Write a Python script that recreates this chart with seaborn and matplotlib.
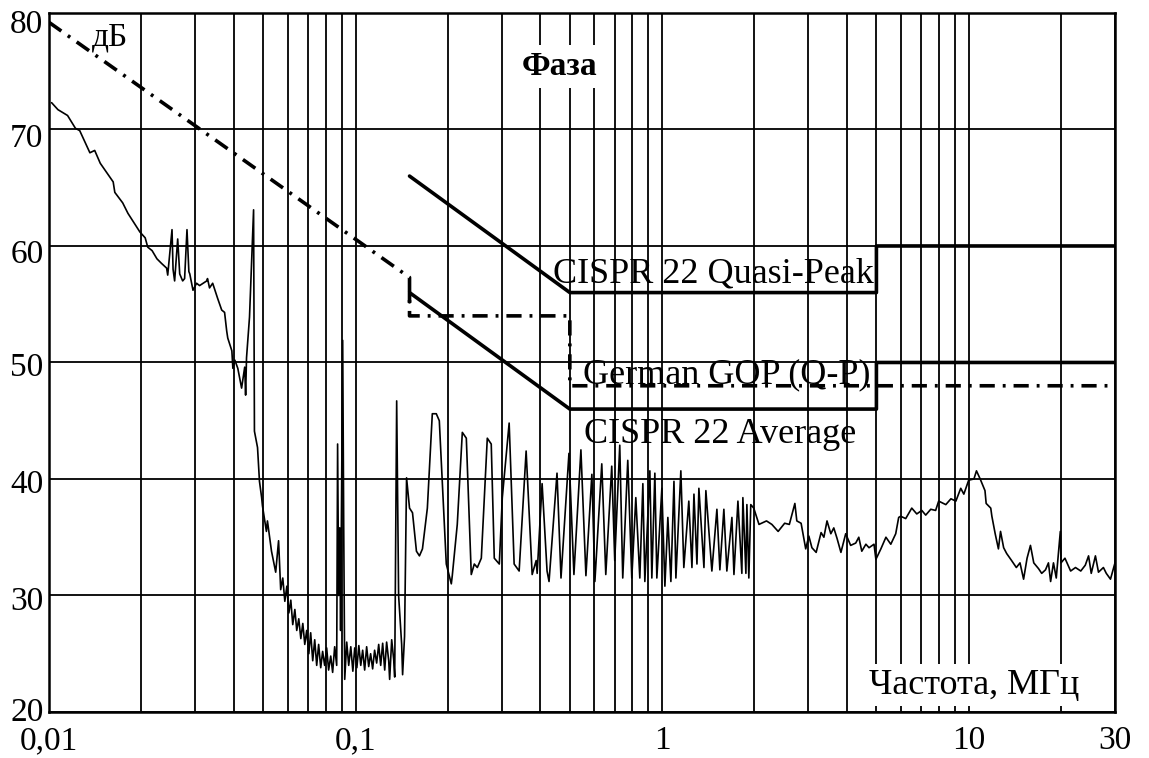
import numpy as np
import matplotlib
matplotlib.use("Agg")
import matplotlib.pyplot as plt
import matplotlib.transforms as mtransforms
from matplotlib.ticker import LogLocator, NullFormatter, FixedLocator
import seaborn as sns

# ---------------- data ----------------
FREQ = [0.0102, 0.0107, 0.0115, 0.0122, 0.0126, 0.0136, 0.0141, 0.0147, 0.0162, 0.0164,
        0.0174, 0.0181, 0.0198, 0.0206, 0.0210, 0.0217, 0.0225, 0.0233, 0.0242, 0.0244,
        0.0252, 0.0254, 0.0257, 0.0263, 0.0267, 0.0273, 0.0277, 0.0282, 0.0286, 0.0288,
        0.0295, 0.0303, 0.0310, 0.0327, 0.0329, 0.0334, 0.0342, 0.0355, 0.0366, 0.0374,
        0.0380, 0.0383, 0.0395, 0.0398, 0.0404, 0.0413, 0.0425, 0.0435, 0.0438, 0.0441,
        0.0451, 0.0465, 0.0468, 0.0479, 0.0486, 0.0494, 0.0497, 0.0512, 0.0516, 0.0532,
        0.0549, 0.0561, 0.0570, 0.0579, 0.0588, 0.0597, 0.0606, 0.0615, 0.0624, 0.0634,
        0.0643, 0.0653, 0.0663, 0.0673, 0.0683, 0.0693, 0.0704, 0.0714, 0.0725, 0.0736,
        0.0747, 0.0758, 0.0770, 0.0781, 0.0793, 0.0805, 0.0817, 0.0830, 0.0842, 0.0855,
        0.0868, 0.0874, 0.0881, 0.0888, 0.0894, 0.0908, 0.0915, 0.0922, 0.0936, 0.0950,
        0.0965, 0.0980, 0.0994, 0.1010, 0.1025, 0.1040, 0.1055, 0.1071, 0.1087, 0.1104,
        0.1120, 0.1137, 0.1154, 0.1172, 0.1190, 0.1208, 0.1226, 0.1245, 0.1263, 0.1283,
        0.1292, 0.1312, 0.1332, 0.1342, 0.1362, 0.1382, 0.1414, 0.1424, 0.1445, 0.1467,
        0.1500, 0.1534, 0.1580, 0.1616, 0.1653, 0.1715, 0.1780, 0.1834, 0.1876, 0.1977,
        0.2053, 0.2068, 0.2147, 0.2230, 0.2298, 0.2385, 0.2440, 0.2496, 0.2572, 0.2690,
        0.2771, 0.2835, 0.2944, 0.3011, 0.3170, 0.3291, 0.3417, 0.3601, 0.3768, 0.3883,
        0.3912, 0.4060, 0.4214, 0.4277, 0.4541, 0.4679, 0.4967, 0.5156, 0.5434, 0.5642,
        0.5900, 0.6035, 0.6356, 0.6550, 0.6850, 0.7006, 0.7275, 0.7440, 0.7726, 0.7963,
        0.8207, 0.8458, 0.8653, 0.8783, 0.9120, 0.9257, 0.9469, 0.9611, 0.9980, 1.021,
        1.044, 1.068, 1.093, 1.109, 1.151, 1.177, 1.222, 1.251, 1.270, 1.299,
        1.318, 1.369, 1.389, 1.453, 1.509, 1.543, 1.590, 1.626, 1.689, 1.715,
        1.767, 1.820, 1.834, 1.876, 1.890, 1.918, 1.946, 1.990, 2.07, 2.19,
        2.28, 2.39, 2.51, 2.60, 2.71, 2.75, 2.84, 2.94, 3.01, 3.08,
        3.18, 3.30, 3.37, 3.45, 3.55, 3.63, 3.72, 3.83, 3.97, 4.12,
        4.28, 4.38, 4.48, 4.62, 4.73, 4.91, 4.98, 5.17, 5.37, 5.57,
        5.78, 5.91, 6.00, 6.23, 6.52, 6.77, 7.03, 7.24, 7.52, 7.80,
        7.98, 8.42, 8.75, 9.08, 9.42, 9.64, 10.0, 10.4, 10.6, 10.9,
        11.3, 11.4, 11.8, 11.9, 12.2, 12.5, 12.7, 13.0, 13.3, 13.8,
        14.3, 14.7, 15.1, 15.5, 15.9, 16.3, 16.9, 17.3, 17.8, 18.2,
        18.5, 18.9, 19.3, 19.9, 20.0, 20.6, 21.5, 22.3, 23.2, 24.0,
        24.6, 25.1, 25.9, 26.5, 27.5, 28.1, 29.0, 30.0]

LEVEL = [72.3, 71.7, 71.2, 70.1, 69.9, 68.0, 68.2, 67.1, 65.5, 64.6,
         63.7, 62.8, 61.2, 60.7, 59.9, 59.6, 58.9, 58.5, 58.1, 57.5,
         61.4, 58.0, 57.0, 60.6, 57.6, 57.0, 57.2, 61.4, 57.8, 57.6,
         56.2, 56.8, 56.6, 57.0, 57.2, 56.4, 56.8, 55.5, 54.5, 54.3,
         52.7, 52.1, 51.0, 49.5, 50.2, 49.5, 47.8, 49.6, 47.2, 50.4,
         53.9, 63.1, 44.1, 42.7, 39.8, 38.4, 37.7, 35.5, 36.4, 33.8,
         32.0, 34.7, 30.5, 31.5, 29.5, 30.8, 28.5, 29.6, 27.5, 28.8,
         27.0, 28.0, 26.3, 27.6, 25.8, 27.0, 25.0, 26.8, 24.4, 26.2,
         24.0, 25.8, 23.8, 25.2, 24.0, 25.5, 23.6, 24.8, 23.4, 25.6,
         24.0, 43.0, 30.0, 35.8, 27.0, 51.9, 36.0, 22.8, 26.0, 24.0,
         25.6, 23.5, 25.5, 23.8, 25.7, 24.0, 25.3, 23.6, 25.6, 23.9,
         25.0, 23.7, 25.3, 24.2, 25.8, 24.0, 25.9, 23.6, 26.0, 24.4,
         22.8, 26.2, 24.5, 23.0, 46.7, 30.0, 25.8, 23.2, 26.5, 40.1,
         37.5, 37.1, 33.8, 33.4, 34.0, 37.5, 45.6, 45.6, 45.0, 32.7,
         31.0, 31.7, 36.1, 44.0, 43.5, 31.8, 32.7, 32.4, 33.2, 43.5,
         43.0, 33.2, 32.7, 38.4, 44.8, 32.7, 32.1, 42.4, 31.8, 33.0,
         31.9, 39.6, 32.1, 31.2, 40.5, 31.5, 42.2, 31.8, 42.5, 31.7,
         40.4, 31.2, 41.3, 31.8, 41.1, 33.0, 42.9, 31.5, 41.6, 31.5,
         38.4, 31.5, 39.6, 31.2, 40.7, 31.5, 40.5, 31.5, 39.2, 30.8,
         36.7, 31.2, 39.8, 31.5, 40.7, 32.4, 38.1, 32.4, 38.7, 32.7,
         39.2, 32.4, 39.0, 32.1, 37.4, 32.2, 37.4, 32.1, 36.7, 31.8,
         38.1, 31.9, 38.4, 31.9, 37.8, 31.5, 37.8, 37.5, 36.1, 36.4,
         36.1, 35.5, 36.2, 36.1, 37.9, 36.4, 36.2, 34.0, 35.1, 34.1,
         33.7, 35.4, 35.0, 36.4, 35.3, 35.8, 34.9, 33.7, 35.3, 34.3,
         34.5, 35.0, 33.8, 34.4, 34.1, 34.4, 33.1, 34.0, 35.0, 34.4,
         35.3, 36.7, 36.8, 36.6, 37.5, 37.0, 37.3, 36.9, 37.4, 37.3,
         38.1, 37.8, 38.3, 38.1, 39.2, 38.7, 39.9, 40.0, 40.7, 40.0,
         39.0, 37.9, 37.5, 36.8, 35.3, 34.0, 35.5, 34.1, 33.6, 33.0,
         32.4, 32.8, 31.4, 33.2, 34.3, 32.8, 32.3, 31.9, 32.2, 32.8,
         31.2, 32.8, 31.5, 35.5, 32.8, 33.2, 32.1, 32.4, 32.1, 32.6,
         33.4, 31.9, 33.4, 32.0, 32.4, 31.9, 31.4, 32.8]

QP_F = [0.15, 0.5, 5.0, 5.0, 30.0]
QP_DB = [66.0, 56.0, 56.0, 60.0, 60.0]

AVG_F = [0.15, 0.15, 0.5, 5.0, 5.0, 30.0]
AVG_DB = [55.2, 56.0, 46.0, 46.0, 50.0, 50.0]

GOP_F = [0.01, 0.15, 0.15, 0.5, 0.5, 30.0]
GOP_DB = [79.2, 57.3, 54.0, 54.0, 48.0, 48.0]

X_TICKS = [0.01, 0.1, 1, 10, 30]
X_TICK_LABELS = ["0,01", "0,1", "1", "10", "30"]
Y_TICKS = [20, 30, 40, 50, 60, 70, 80]

# ---------------- style ----------------
sns.set_theme(style="white")
plt.rcParams["font.family"] = ["Liberation Serif", "DejaVu Serif"]
plt.rcParams["text.color"] = "black"
plt.rcParams["xtick.color"] = "black"
plt.rcParams["ytick.color"] = "black"
plt.rcParams["axes.labelcolor"] = "black"

fig = plt.figure(figsize=(11.49, 7.58), dpi=100)
ax = fig.add_axes([0.0426, 0.0607, 0.9278, 0.9222])

ax.set_xscale("log")
ax.set_xlim(0.01, 30)
ax.set_ylim(20, 80)

# grid
ax.xaxis.set_major_locator(FixedLocator(X_TICKS))
ax.xaxis.set_minor_locator(LogLocator(base=10, subs=np.arange(2, 10)))
ax.xaxis.set_minor_formatter(NullFormatter())
ax.set_xticklabels(X_TICK_LABELS)
ax.set_yticks(Y_TICKS)
ax.grid(True, which="both", axis="x", color="black", lw=1.3)
ax.grid(True, which="major", axis="y", color="black", lw=1.3)
ax.set_axisbelow(True)

ax.tick_params(axis="both", which="both", length=0, labelsize=24, colors="black")
ax.tick_params(axis="x", pad=10)
ax.tick_params(axis="y", pad=4)
for s in ax.spines.values():
    s.set_color("black")
    s.set_linewidth(1.8)

# small vertical nudges of y tick labels (pixels, positive = up), as in the reference
Y_NUDGE_PX = {20: 3, 30: -3, 40: -2, 50: -2, 60: -5, 70: -6, 80: -8}
for val, lab in zip(Y_TICKS, ax.get_yticklabels()):
    off = mtransforms.ScaledTranslation(0, Y_NUDGE_PX[val] / 100.0, fig.dpi_scale_trans)
    lab.set_transform(lab.get_transform() + off)

# measured spectrum
sns.lineplot(x=FREQ, y=LEVEL, ax=ax, sort=False, estimator=None,
             color="black", lw=1.2, zorder=3)

# limit lines
sns.lineplot(x=QP_F, y=QP_DB, ax=ax, sort=False, estimator=None,
             color="black", lw=2.6, zorder=4)
sns.lineplot(x=AVG_F, y=AVG_DB, ax=ax, sort=False, estimator=None,
             color="black", lw=2.6, zorder=4)
sns.lineplot(x=GOP_F, y=GOP_DB, ax=ax, sort=False, estimator=None,
             color="black", lw=2.6, zorder=4, linestyle=(0, (4.2, 2.2, 0.8, 2.2)))

ax.set_xlabel("")
ax.set_ylabel("")

# texts
ax.text(0.0158, 77.9, "дБ", fontsize=24, color="black", ha="center", va="center", zorder=6)
ax.text(0.462, 75.4, "Фаза", fontsize=24, fontweight="bold", color="black",
        ha="center", va="center", zorder=6,
        bbox=dict(facecolor="white", edgecolor="none", pad=4))
ax.text(0.44, 56.9, "CISPR 22 Quasi-Peak", fontsize=26, color="black",
        ha="left", va="baseline", zorder=6)
ax.text(0.55, 48.2, "German GOP (Q-P)", fontsize=26, color="black",
        ha="left", va="baseline", zorder=6)
ax.text(0.555, 43.1, "CISPR 22 Average", fontsize=26, color="black",
        ha="left", va="baseline", zorder=6)
ax.text(10.4, 22.3, "Частота, МГц", fontsize=26, color="black",
        ha="center", va="center", zorder=6,
        bbox=dict(facecolor="white", edgecolor="none", pad=3))

fig.savefig("out.png", dpi=100)
